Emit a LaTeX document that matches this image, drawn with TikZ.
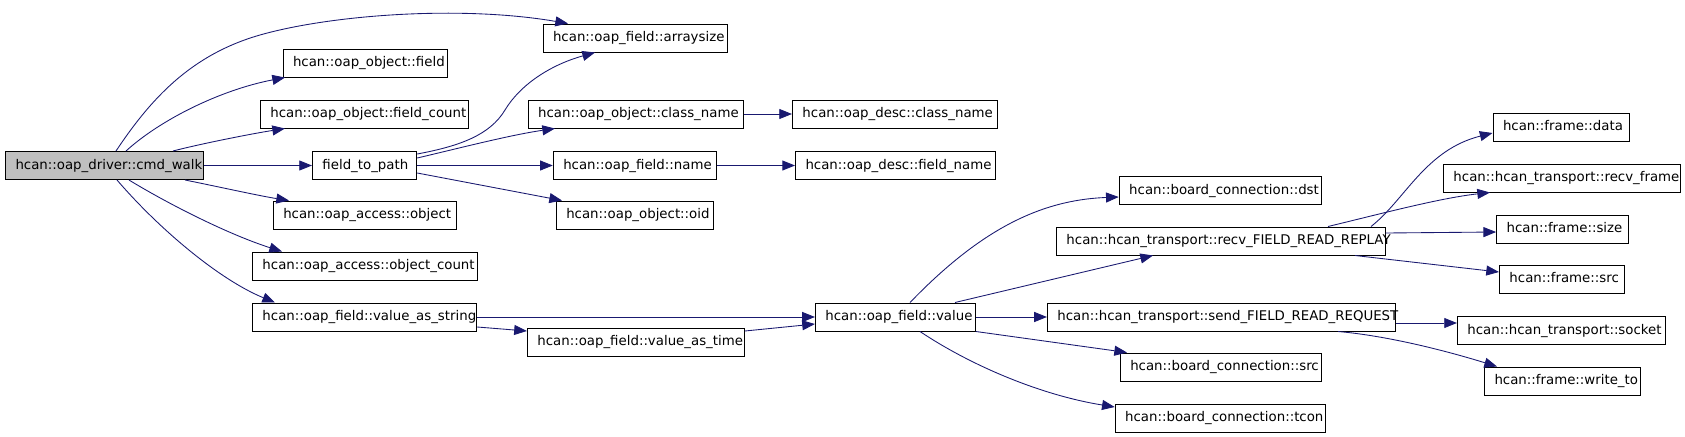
\documentclass[tikz,border=0pt]{standalone}
\usepackage{fontspec}
\setmainfont{DejaVu Sans}
\usetikzlibrary{arrows.meta}
\definecolor{edge}{HTML}{191970}
\definecolor{rootfill}{HTML}{BFBFBF}
\newcommand{\lbl}[2]{\makebox[#1pt][l]{#2}}
\tikzset{
  cbox/.style={draw=black,fill=white,line width=0.75pt,inner xsep=7.5pt,inner ysep=0pt,minimum height=21pt,text height=7.5pt,text depth=2.2pt,font=\fontsize{10}{12}\selectfont},
  croot/.style={cbox,fill=rootfill},
  carr/.style={-{Triangle[length=9.5pt,width=7.5pt]},line width=0.65pt,draw=edge}
}
\begin{document}
\begin{tikzpicture}[x=0.75pt,y=-0.75pt]
  \useasboundingbox (0,0) rectangle (1685,436);
  \node[croot] (walk) at (104.5,165.5) {\lbl{133.5}{hcan::oap\_driver::cmd\_walk}};
  \node[cbox] (arraysize) at (635.3,38) {\lbl{123.4}{hcan::oap\_field::arraysize}};
  \node[cbox] (ofield) at (365.3,63) {\lbl{108.4}{hcan::oap\_object::field}};
  \node[cbox] (fcount) at (364.3,114) {\lbl{141}{hcan::oap\_object::field\_count}};
  \node[cbox] (ftp) at (364.6,165.5) {\lbl{63.2}{field\_to\_path}};
  \node[cbox] (aobject) at (364.8,215) {\lbl{122.3}{hcan::oap\_access::object}};
  \node[cbox] (acount) at (365,266) {\lbl{153.8}{hcan::oap\_access::object\_count}};
  \node[cbox] (vstring) at (364.6,317) {\lbl{153.2}{hcan::oap\_field::value\_as\_string}};
  \node[cbox] (oclass) at (635.7,114) {\lbl{146.3}{hcan::oap\_object::class\_name}};
  \node[cbox] (dclass) at (894.8,114) {\lbl{138.5}{hcan::oap\_desc::class\_name}};
  \node[cbox] (fname) at (634.8,165.5) {\lbl{107.3}{hcan::oap\_field::name}};
  \node[cbox] (dfname) at (895.5,165.5) {\lbl{135}{hcan::oap\_desc::field\_name}};
  \node[cbox] (oid) at (634.8,215) {\lbl{102.8}{hcan::oap\_object::oid}};
  \node[cbox] (vtime) at (635.9,342) {\lbl{147.8}{hcan::oap\_field::value\_as\_time}};
  \node[cbox] (value) at (895.4,317) {\lbl{105}{hcan::oap\_field::value}};
  \node[cbox] (dst) at (1220.2,190.5) {\lbl{136.5}{hcan::board\_connection::dst}};
  \node[cbox] (recv) at (1220.8,241) {\lbl{231.5}{hcan::hcan\_transport::recv\_FIELD\_READ\_REPLAY}};
  \node[cbox] (send) at (1221.2,317) {\lbl{245.7}{hcan::hcan\_transport::send\_FIELD\_READ\_REQUEST}};
  \node[cbox] (bsrc) at (1220.8,367) {\lbl{135.8}{hcan::board\_connection::src}};
  \node[cbox] (tcon) at (1220.2,418) {\lbl{142.5}{hcan::board\_connection::tcon}};
  \node[cbox] (data) at (1561,127) {\lbl{87}{hcan::frame::data}};
  \node[cbox] (rframe) at (1562,178) {\lbl{162.8}{hcan::hcan\_transport::recv\_frame}};
  \node[cbox] (size) at (1562.4,229) {\lbl{83.7}{hcan::frame::size}};
  \node[cbox] (fsrc) at (1561.8,279) {\lbl{78.5}{hcan::frame::src}};
  \node[cbox] (socket) at (1561.4,330.5) {\lbl{141}{hcan::hcan\_transport::socket}};
  \node[cbox] (write) at (1562.5,381) {\lbl{102}{hcan::frame::write\_to}};
  % calls from cmd_walk
  \draw[carr] (walk.north -| 116,0) .. controls (150,100) and (190,55) .. (260,35) .. controls (330,15) and (460,5) .. (arraysize.north -| 568,0);
  \draw[carr] (walk.north -| 126,0) .. controls (160,120) and (220,90) .. (ofield.south -| 285,0);
  \draw[carr] (walk.north -| 173,0) .. controls (200,144) and (250,134) .. (fcount.south -| 285,0);
  \draw[carr] (walk.east) -- (ftp.west);
  \draw[carr] (walk.south -| 185,0) .. controls (215,186) and (260,196) .. (aobject.north -| 289,0);
  \draw[carr] (walk.south -| 129,0) .. controls (170,205) and (230,235) .. (acount.north -| 282,0);
  \draw[carr] (walk.south -| 117,0) .. controls (160,230) and (220,280) .. (vstring.north -| 275,0);
  % field_to_path
  \draw[carr] (ftp.east |- 0,154) .. controls (460,146) and (490,135) .. (505,110) .. controls (520,85) and (550,65) .. (arraysize.south -| 595,0);
  \draw[carr] (ftp.east |- 0,158) .. controls (460,148) and (510,135) .. (oclass.south -| 555,0);
  \draw[carr] (ftp.east) -- (fname.west);
  \draw[carr] (ftp.east |- 0,173) -- (oid.north -| 562,0);
  \draw[carr] (oclass.east) -- (dclass.west);
  \draw[carr] (fname.east) -- (dfname.west);
  % value_as_string / value_as_time
  \draw[carr] (vstring.east) -- (value.west);
  \draw[carr] (vstring.east |- 0,327) -- (vtime.west |- 0,331);
  \draw[carr] (vtime.east |- 0,331) -- (value.west |- 0,324);
  % value
  \draw[carr] (value.north -| 910,0) .. controls (980,230) and (1040,200) .. (dst.west |- 0,197);
  \draw[carr] (value.north -| 955,0) -- (recv.south -| 1153,0);
  \draw[carr] (value.east) -- (send.west);
  \draw[carr] (value.east |- 0,331.5) -- (bsrc.north -| 1127,0);
  \draw[carr] (value.south -| 920,0) .. controls (970,365) and (1040,395) .. (tcon.west |- 0,407);
  % transport
  \draw[carr] (recv.north -| 1371,0) .. controls (1405,200) and (1425,150) .. (data.west |- 0,133);
  \draw[carr] (recv.north -| 1328,0) .. controls (1380,214) and (1440,198) .. (rframe.south -| 1490,0);
  \draw[carr] (recv.east |- 0,233) -- (size.west |- 0,232);
  \draw[carr] (recv.south -| 1355,0) -- (fsrc.west |- 0,272);
  \draw[carr] (send.east |- 0,323) -- (socket.west |- 0,323);
  \draw[carr] (send.south -| 1338,0) .. controls (1390,336) and (1450,352) .. (write.north -| 1497,0);
\end{tikzpicture}
\end{document}
